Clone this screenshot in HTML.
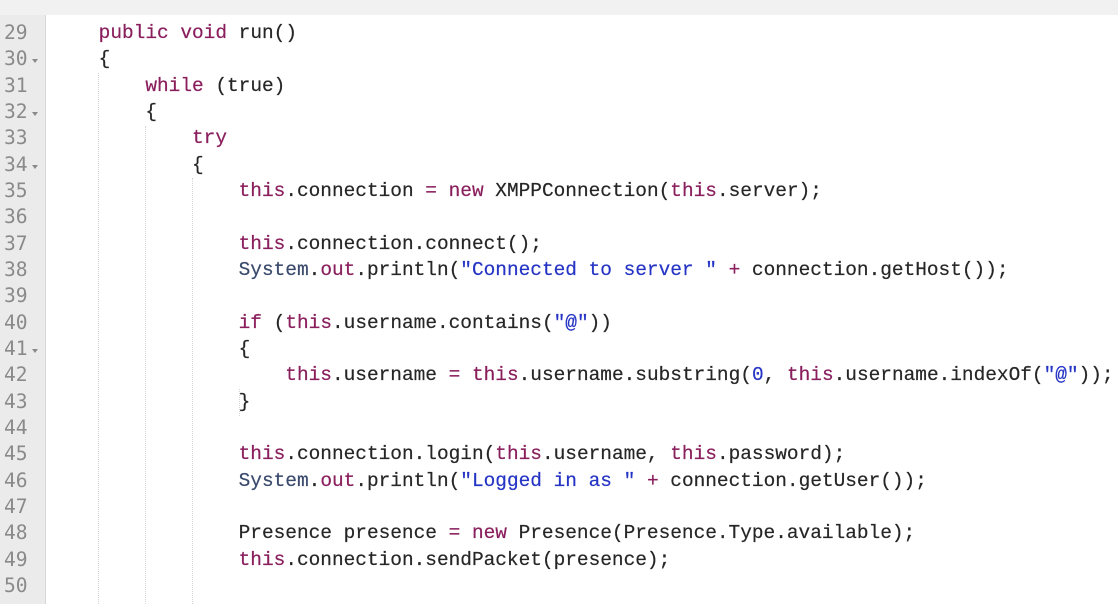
<!DOCTYPE html>
<html>
<head>
<meta charset="utf-8">
<style>
  html,body{margin:0;padding:0;}
  body{width:1118px;height:604px;overflow:hidden;background:#ffffff;position:relative;
       font-family:"DejaVu Sans Mono","Liberation Mono",monospace;}
  .top{position:absolute;left:0;top:0;width:1118px;height:15px;background:#f1f1f1;}
  .gutter{position:absolute;left:0;top:15px;width:45px;height:589px;background:#ebebeb;border-right:1px solid #d6d6d6;}
  .wrap{position:absolute;left:0;top:3px;width:1118px;height:604px;}
  .ln{position:absolute;left:4px;font-size:19.6px;line-height:26.33px;height:26.33px;color:#8a8a8a;white-space:pre;}
  .fold{position:absolute;left:32px;width:0;height:0;border-left:3px solid transparent;border-right:3px solid transparent;border-top:4px solid #8a8a8a;}
  .code{position:absolute;left:52px;font-size:19.46px;line-height:26.33px;height:26.33px;color:#262626;white-space:pre;margin:0;-webkit-text-stroke:0.2px currentColor;}
  .k{color:#8a1f5d;}
  .s{color:#2534c4;}
  .n{color:#2534c4;}
  .c{color:#3a4a6c;}
  .g{position:absolute;width:0;border-left:1px dotted #d4d4d4;}
</style>
</head>
<body>
<div class="top"></div>
<div class="gutter"></div>

<!-- indent guides -->
<div class="g" style="left:98px;top:73px;height:531px;"></div>
<div class="g" style="left:145px;top:126px;height:478px;"></div>
<div class="g" style="left:192px;top:178px;height:426px;"></div>
<div class="g" style="left:239px;top:389px;height:27px;"></div>

<div class="wrap">
<!-- line numbers -->
<div class="ln" style="top:17px;">29</div>
<div class="ln" style="top:43.33px;">30</div><div class="fold" style="top:56px;"></div>
<div class="ln" style="top:69.66px;">31</div>
<div class="ln" style="top:96px;">32</div><div class="fold" style="top:109px;"></div>
<div class="ln" style="top:122.33px;">33</div>
<div class="ln" style="top:148.66px;">34</div><div class="fold" style="top:161.5px;"></div>
<div class="ln" style="top:175px;">35</div>
<div class="ln" style="top:201.33px;">36</div>
<div class="ln" style="top:227.66px;">37</div>
<div class="ln" style="top:254px;">38</div>
<div class="ln" style="top:280.33px;">39</div>
<div class="ln" style="top:306.66px;">40</div>
<div class="ln" style="top:333px;">41</div><div class="fold" style="top:346px;"></div>
<div class="ln" style="top:359.33px;">42</div>
<div class="ln" style="top:385.66px;">43</div>
<div class="ln" style="top:412px;">44</div>
<div class="ln" style="top:438.33px;">45</div>
<div class="ln" style="top:464.66px;">46</div>
<div class="ln" style="top:491px;">47</div>
<div class="ln" style="top:517.33px;">48</div>
<div class="ln" style="top:543.66px;">49</div>
<div class="ln" style="top:570px;">50</div>

<!-- code -->
<pre class="code" style="top:17px;">    <span class="k">public</span> <span class="k">void</span> run()</pre>
<pre class="code" style="top:43.33px;">    {</pre>
<pre class="code" style="top:69.66px;">        <span class="k">while</span> (true)</pre>
<pre class="code" style="top:96px;">        {</pre>
<pre class="code" style="top:122.33px;">            <span class="k">try</span></pre>
<pre class="code" style="top:148.66px;">            {</pre>
<pre class="code" style="top:175px;">                <span class="k">this</span>.connection <span class="k">=</span> <span class="k">new</span> XMPPConnection(<span class="k">this</span>.server);</pre>
<pre class="code" style="top:227.66px;">                <span class="k">this</span>.connection.connect();</pre>
<pre class="code" style="top:254px;">                <span class="c">System</span>.<span class="k">out</span>.println(<span class="s">"Connected to server "</span> <span class="k">+</span> connection.getHost());</pre>
<pre class="code" style="top:306.66px;">                <span class="k">if</span> (<span class="k">this</span>.username.contains(<span class="s">"@"</span>))</pre>
<pre class="code" style="top:333px;">                {</pre>
<pre class="code" style="top:359.33px;">                    <span class="k">this</span>.username <span class="k">=</span> <span class="k">this</span>.username.substring(<span class="n">0</span>, <span class="k">this</span>.username.indexOf(<span class="s">"@"</span>));</pre>
<pre class="code" style="top:385.66px;">                }</pre>
<pre class="code" style="top:438.33px;">                <span class="k">this</span>.connection.login(<span class="k">this</span>.username, <span class="k">this</span>.password);</pre>
<pre class="code" style="top:464.66px;">                <span class="c">System</span>.<span class="k">out</span>.println(<span class="s">"Logged in as "</span> <span class="k">+</span> connection.getUser());</pre>
<pre class="code" style="top:517.33px;">                Presence presence <span class="k">=</span> <span class="k">new</span> Presence(Presence.Type.available);</pre>
<pre class="code" style="top:543.66px;">                <span class="k">this</span>.connection.sendPacket(presence);</pre>
</div>
</body>
</html>
